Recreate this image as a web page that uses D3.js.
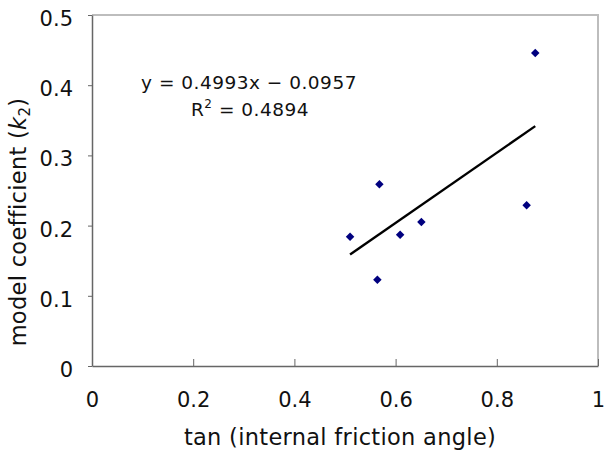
<!DOCTYPE html>
<html>
<head>
<meta charset="utf-8">
<script src="https://cdn.jsdelivr.net/npm/d3@7"></script>
<style>
  body { margin: 0; background: #fff; }
  text { font-family: 'DejaVu Sans', 'Liberation Sans', Arial, sans-serif; fill: #111; }
</style>
</head>
<body>
<svg id="chart" width="604" height="451"></svg>
<script>
// data
const tanPhi = [0.510, 0.568, 0.564, 0.609, 0.651, 0.859, 0.876]
const k2 = [0.184, 0.259, 0.123, 0.187, 0.205, 0.229, 0.446]
const xTicks = [0, 0.2, 0.4, 0.6, 0.8, 1]
const yTicks = [0, 0.1, 0.2, 0.3, 0.4, 0.5]
const slope = 0.4993
const intercept = -0.0957
const rSquared = 0.4894

const width = 604
const height = 451
const margin = { top: 15, right: 6, bottom: 85, left: 92 }

const svg = d3.select('#chart')

const x = d3.scaleLinear().domain([0, 1]).range([margin.left, width - margin.right])
const y = d3.scaleLinear().domain([0, 0.5]).range([height - margin.bottom, margin.top])

// frame (top and right, light gray)
svg.append('path')
  .attr('d', `M${x(0)},${y(0.5)}H${x(1)}V${y(0)}`)
  .attr('fill', 'none')
  .attr('stroke', '#bdbdbd')
  .attr('stroke-width', 2)

// x axis: ticks pointing up into the plot
const xAxis = svg.append('g')
  .attr('transform', `translate(0,${y(0)})`)
  .call(d3.axisBottom(x).tickValues(xTicks).tickSizeInner(-7).tickSizeOuter(0)
    .tickFormat(d3.format('~g')))
xAxis.select('.domain').attr('stroke', '#666').attr('stroke-width', 1.5)
xAxis.selectAll('.tick line').attr('stroke', '#666')
xAxis.selectAll('.tick text')
  .attr('y', 26)
  .attr('font-size', 21)
  .attr('fill', '#111')

// y axis
const yAxis = svg.append('g')
  .attr('transform', `translate(${x(0)},0)`)
  .call(d3.axisLeft(y).tickValues(yTicks).tickSizeInner(4).tickSizeOuter(0)
    .tickFormat(d3.format('~g')))
yAxis.select('.domain').attr('stroke', '#666').attr('stroke-width', 1.5)
yAxis.selectAll('.tick line').attr('stroke', '#666')
yAxis.selectAll('.tick text')
  .attr('x', -19)
  .attr('dy', '0.5em')
  .attr('font-size', 21)
  .attr('fill', '#111')

// axis titles
svg.append('text')
  .attr('x', 340)
  .attr('y', 445)
  .attr('text-anchor', 'middle')
  .attr('font-size', 22.5)
  .attr('letter-spacing', 0.3)
  .text('tan (internal friction angle)')

const yTitle = svg.append('text')
  .attr('transform', `translate(26,222) rotate(-90)`)
  .attr('text-anchor', 'middle')
  .attr('font-size', 22.5)
  .attr('letter-spacing', 0.3)
yTitle.append('tspan').text('model coefficient (')
yTitle.append('tspan').attr('font-style', 'italic').text('k')
yTitle.append('tspan').attr('font-size', 15).attr('dy', 4).text('2')
yTitle.append('tspan').attr('dy', -4).text(')')

// trend line across the data range
const xr = d3.extent(tanPhi)
svg.append('line')
  .attr('x1', x(xr[0]))
  .attr('y1', y(slope * xr[0] + intercept))
  .attr('x2', x(xr[1]))
  .attr('y2', y(slope * xr[1] + intercept))
  .attr('stroke', '#000')
  .attr('stroke-width', 2.4)

// points
svg.append('g')
  .selectAll('path')
  .data(tanPhi.map((v, i) => [v, k2[i]]))
  .join('path')
  .attr('transform', (d) => `translate(${x(d[0])},${y(d[1])})`)
  .attr('d', d3.symbol(d3.symbolDiamond2, 46))
  .attr('fill', '#00007f')

// equation
svg.append('text')
  .attr('x', 249)
  .attr('y', 89)
  .attr('text-anchor', 'middle')
  .attr('font-size', 18.5)
  .attr('letter-spacing', 0.5)
  .text(`y = ${slope}x \u2212 ${Math.abs(intercept)}`)

const r2 = svg.append('text')
  .attr('x', 250)
  .attr('y', 116)
  .attr('text-anchor', 'middle')
  .attr('font-size', 18.5)
  .attr('letter-spacing', 0.5)
r2.append('tspan').text('R')
r2.append('tspan').attr('font-size', 12).attr('dy', -8).text('2')
r2.append('tspan').attr('dy', 8).text(` = ${rSquared}`)
</script>
</body>
</html>
